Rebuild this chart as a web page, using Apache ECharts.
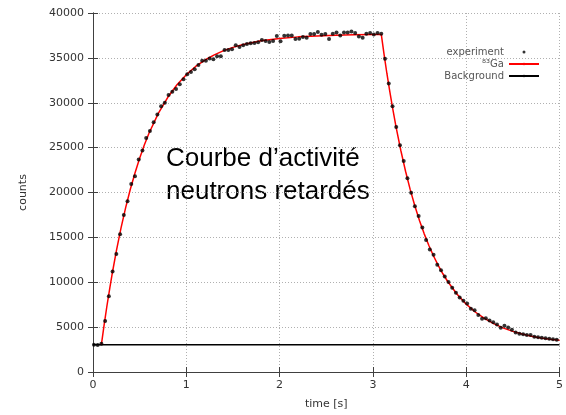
<!DOCTYPE html>
<html>
<head>
<meta charset="utf-8">
<script src="https://cdn.jsdelivr.net/npm/echarts@6/dist/echarts.min.js"></script>
<style>
html,body{margin:0;padding:0;background:#fff;overflow:hidden;}
#chart{width:566px;height:415px;}
</style>
</head>
<body>
<div id="chart"></div>
<script>
// ---- data ----
const expTime = [0.01,0.05,0.09,0.13,0.17,0.21,0.25,0.29,0.33,0.37,0.41,0.45,0.49,0.53,0.57,0.61,0.65,0.69,0.73,0.77,
0.81,0.85,0.89,0.93,0.97,1.01,1.05,1.09,1.13,1.17,1.21,1.25,1.29,1.33,1.37,1.41,1.45,1.49,1.53,1.57,
1.61,1.65,1.69,1.73,1.77,1.81,1.85,1.89,1.93,1.97,2.01,2.05,2.09,2.13,2.17,2.21,2.25,2.29,2.33,2.37,
2.41,2.45,2.49,2.53,2.57,2.61,2.65,2.69,2.73,2.77,2.81,2.85,2.89,2.93,2.97,3.01,3.05,3.09,3.13,3.17,
3.21,3.25,3.29,3.33,3.37,3.41,3.45,3.49,3.53,3.57,3.61,3.65,3.69,3.73,3.77,3.81,3.85,3.89,3.93,3.97,
4.01,4.05,4.09,4.13,4.17,4.21,4.25,4.29,4.33,4.37,4.41,4.45,4.49,4.53,4.57,4.61,4.65,4.69,4.73,4.77,
4.81,4.85,4.89,4.93,4.97];
const expCounts = [3050,3010,3150,5690,8440,11200,13150,15350,17490,19030,20940,21820,23690,24680,26080,26850,27840,28690,29610,30010,
30850,31220,31520,32070,32620,33170,33420,33720,34200,34680,34680,34930,34860,35190,35190,35890,35890,35960,36400,36220,
36400,36550,36620,36660,36730,36990,36880,36770,36880,37430,36840,37470,37500,37500,37100,37130,37320,37250,37650,37650,
37870,37580,37650,37100,37690,37830,37500,37830,37830,37940,37760,37390,37250,37690,37760,37610,37760,37690,34900,32140,
29610,27290,25270,23510,21600,19980,18480,17380,16090,14710,13660,13060,11960,11340,10650,10030,9380,8830,8300,7930,
7640,7050,6870,6360,5920,5980,5730,5540,5290,4920,5150,4960,4700,4410,4260,4220,4110,4110,3930,3860,
3820,3750,3710,3640,3600];
const fitTime = [0.09,0.12,0.15,0.18,0.21,0.25,0.3,0.35,0.4,0.45,0.5,0.55,0.6,0.7,0.8,0.9,1.0,1.1,1.2,1.3,1.4,1.5,1.6,1.8,2.0,2.2,2.4,2.6,2.8,3.0,3.09,
3.12,3.15,3.18,3.21,3.25,3.3,3.35,3.4,3.45,3.5,3.55,3.6,3.65,3.7,3.75,3.8,3.9,4.0,4.1,4.2,4.3,4.4,4.5,4.6,4.7,4.8,4.9,5.0];
const fitCounts = [3050,5295,7410,9357,11198,13460,16030,18310,20360,22180,23820,25290,26600,28810,30580,32000,33130,34040,34760,35340,35810,36170,36470,36900,37170,37340,37450,37525,37570,37600,37610,
35365,33260,31310,29490,27210,24650,22370,20320,18500,16860,15390,14090,12925,11880,10945,10110,8690,7560,6658,5940,5355,4890,4525,4230,3995,3800,3652,3530];
const bgTime = [0, 5];
const bgCounts = [3050, 3050];
const xTicks = [0,1,2,3,4,5];
const yTicks = [0,5000,10000,15000,20000,25000,30000,35000,40000];
const seriesNames = ['experiment', '\u2078\u00b3Ga', 'Background'];
const annotation = ['Courbe d\u2019activit\u00e9', 'neutrons retard\u00e9s'];
const xTitle = 'time [s]';
const yTitle = 'counts';

const pair = (xs, ys) => xs.map((x, i) => [x, ys[i]]);

const FONT = 'DejaVu Sans';
const frame = '#404040';
const gridDots = {show: true, lineStyle: {color: '#b0b0b0', type: [1, 2], width: 1}};

const chart = echarts.init(document.getElementById('chart'), null, {renderer: 'canvas', width: 566, height: 415});
chart.setOption({
  animation: false,
  backgroundColor: '#ffffff',
  textStyle: {fontFamily: FONT},
  grid: {left: 93, right: 3, top: 13, bottom: 39, containLabel: false},
  xAxis: [{
    type: 'value', min: xTicks[0], max: xTicks[xTicks.length - 1], interval: 1, position: 'bottom',
    name: xTitle, nameLocation: 'middle', nameGap: 27,
    nameTextStyle: {fontFamily: FONT, fontSize: 11, color: '#333'},
    axisLine: {show: true, lineStyle: {color: frame, width: 1}},
    axisTick: {show: true, inside: true, length: 5, lineStyle: {color: frame}},
    axisLabel: {fontFamily: FONT, fontSize: 11, color: '#333', margin: 8},
    splitLine: gridDots
  }, {
    type: 'value', min: xTicks[0], max: xTicks[xTicks.length - 1], interval: 1, position: 'top',
    axisLine: {show: true, lineStyle: {color: frame, width: 1}},
    axisTick: {show: true, inside: true, length: 5, lineStyle: {color: frame}},
    axisLabel: {show: false}, splitLine: {show: false}
  }],
  yAxis: [{
    type: 'value', min: yTicks[0], max: yTicks[yTicks.length - 1], interval: 5000, position: 'left',
    name: yTitle, nameLocation: 'middle', nameGap: 64, nameRotate: 90,
    nameTextStyle: {fontFamily: FONT, fontSize: 11, color: '#333'},
    axisLine: {show: true, lineStyle: {color: frame, width: 1}},
    axisTick: {show: true, inside: true, length: 5, lineStyle: {color: frame}},
    axisLabel: {fontFamily: FONT, fontSize: 11, color: '#333', margin: 9, formatter: v => String(v)},
    splitLine: gridDots
  }, {
    type: 'value', min: yTicks[0], max: yTicks[yTicks.length - 1], interval: 5000, position: 'right',
    axisLine: {show: true, lineStyle: {color: frame, width: 1}},
    axisTick: {show: true, inside: true, length: 5, lineStyle: {color: frame}},
    axisLabel: {show: false}, splitLine: {show: false}
  }],
  legend: {
    orient: 'vertical', align: 'right', right: 26, top: 47, padding: 0,
    itemWidth: 30, itemHeight: 3, itemGap: 2,
    textStyle: {fontFamily: FONT, fontSize: 10, color: '#555'},
    data: seriesNames
  },
  graphic: [{
    type: 'text', left: 166, top: 142,
    style: {text: annotation.join('\n'), font: '26px "Liberation Sans", Arial, sans-serif', fill: '#000', lineHeight: 33}
  }],
  series: [{
    name: seriesNames[2], type: 'line', data: pair(bgTime, bgCounts), symbol: 'none',
    lineStyle: {color: '#000', width: 1.5}, itemStyle: {color: '#000'}, z: 2
  }, {
    name: seriesNames[1], type: 'line', data: pair(fitTime, fitCounts), symbol: 'none', smooth: false,
    lineStyle: {color: '#ff0000', width: 1.5}, itemStyle: {color: '#ff0000'}, z: 3
  }, {
    name: seriesNames[0], type: 'scatter', data: pair(expTime, expCounts), symbol: 'circle', symbolSize: 4,
    itemStyle: {color: '#000'}, z: 4
  }]
});
</script>
</body>
</html>
